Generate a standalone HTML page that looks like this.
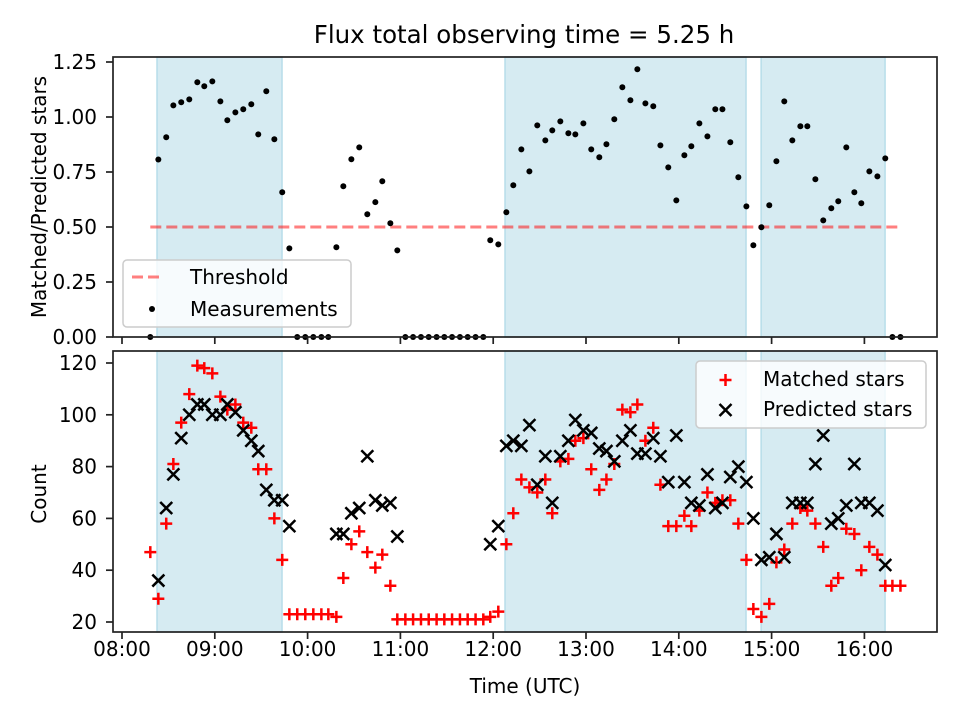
<!DOCTYPE html>
<html><head><meta charset="utf-8"><style>
body{margin:0;background:#fff;}
svg{display:block;font-family:"DejaVu Sans","Liberation Sans",sans-serif;}
</style></head><body>
<svg id="c" width="960" height="720" viewBox="0 0 960 720"></svg>
<script>
const times=[18.3,23.5,28.6,33.2,38.3,43.5,48.7,53.2,58.4,63.6,68.1,73.3,78.4,83.6,88.1,93.3,98.5,103.6,108.2,113.3,118.5,123.7,128.9,133.4,138.6,143.1,148.3,153.4,158.6,163.8,168.3,173.5,178.0,183.2,188.2,193.3,198.3,203.4,208.4,213.4,218.5,223.5,228.6,233.6,238.1,243.3,248.5,253.0,258.2,263.4,268.5,273.7,278.2,283.4,288.6,293.1,298.3,303.4,308.6,313.2,318.3,323.5,328.7,333.2,338.4,343.5,348.1,353.2,358.4,363.6,368.1,373.3,378.5,383.6,388.2,393.3,398.5,403.7,408.2,413.4,418.5,423.1,428.2,433.4,438.6,443.1,448.3,453.4,458.6,463.1,468.3,473.5,478.0,483.2,488.4,493.5,498.1,503.3];
const ratio=[0,.807,.908,1.053,1.067,1.08,1.158,1.14,1.162,1.071,.985,1.021,1.035,1.058,.921,1.117,.899,.658,.403,0,0,0,0,0,.408,.685,.808,.862,.558,.613,.708,.517,.394,0,0,0,0,0,0,0,0,0,0,0,.44,.421,.567,.69,.853,.753,.962,.894,.939,.98,.926,.921,.971,.853,.817,.876,.99,1.135,1.076,1.217,1.062,1.049,.871,.771,.621,.826,.867,.971,.912,1.035,1.035,.885,.726,.594,.417,.499,.599,.799,1.071,.894,.958,.958,.717,.53,.585,.617,.862,.658,.608,.753,.73,.812,0,0];
const matched=[47,29,58,81,97,108,119,118,116,107,102,104,97,95,79,79,60,44,23,23,23,23,23,23,22,37,50,55,47,41,46,34,21,21,21,21,21,21,21,21,21,21,21,21,22,24,50,62,75,72,70,75,62,82,83,90,91,79,71,75,81,102,101,104,90,95,73,57,57,61,57,63,70,66,67,67,58,44,25,22,27,43,48,58,64,63,58,49,34,37,56,54,40,49,46,34,34,34];
const predicted=[null,36,64,77,91,100,104,104,100,100,104,101,94,90,86,71,67,67,57,null,null,null,null,null,54,54,62,64,84,67,65,66,53,null,null,null,null,null,null,null,null,null,null,null,50,57,88,90,88,96,73,84,66,84,90,98,94,93,87,86,82,90,94,85,85,91,84,74,92,74,66,65,77,64,66,76,80,74,60,44,45,54,45,66,66,66,81,92,58,60,65,81,66,66,63,42,null,null];
const spans=[[22.6,103.5],[247.6,403.5],[413.2,493.4]];
const threshold=0.5, thrStart=18.3, thrEnd=503.3;
const xTickLabels=["08:00","09:00","10:00","11:00","12:00","13:00","14:00","15:00","16:00"];
const topTicks=[0,0.25,0.5,0.75,1.0,1.25];
const botTicks=[20,40,60,80,100,120];

const NS="http://www.w3.org/2000/svg";
const svg=document.getElementById('c');
function el(t,a,p){const e=document.createElementNS(NS,t);for(const k in a)e.setAttribute(k,a[k]);(p||svg).appendChild(e);return e;}
const L=113,R=937,T1=57,B1=337,T2=351,B2=632;
const FS=20;
const X=m=>122+m*92.8/60;
const Y1=v=>337-v*220;
const Y2=v=>622-(v-20)*2.59;

[[T1,B1],[T2,B2]].forEach(([t,b])=>{
  spans.forEach(s=>{
    const r=el('rect',{x:X(s[0]),y:t,width:X(s[1])-X(s[0]),height:b-t,fill:'#add8e6','fill-opacity':0.5,stroke:'#add8e6','stroke-opacity':0.8,'stroke-width':1.5});
    
    
  });
});
const th=el('line',{x1:X(thrStart),x2:X(thrEnd),y1:Y1(threshold),y2:Y1(threshold),stroke:'#ff0000','stroke-opacity':0.5,'stroke-width':3,'stroke-dasharray':'11,5'});


times.forEach((t,i)=>{
  const c=el('circle',{cx:X(t),cy:Y1(ratio[i]),r:3,fill:'#000'});
  
  
});
function plus(x,y,g){el('path',{d:`M${x-6},${y}H${x+6}M${x},${y-6}V${y+6}`,stroke:'#f00','stroke-width':2.5},g);}
function cross(x,y,g){el('path',{d:`M${x-6},${y-6}L${x+6},${y+6}M${x-6},${y+6}L${x+6},${y-6}`,stroke:'#000','stroke-width':2.5},g);}
times.forEach((t,i)=>{
  const g=el('g',{});
  
  
  plus(X(t),Y2(matched[i]),g);
});
times.forEach((t,i)=>{
  if(predicted[i]==null)return;
  const g=el('g',{});
  
  
  cross(X(t),Y2(predicted[i]),g);
});
[[T1,B1],[T2,B2]].forEach(([t,b])=>{
  const f=el('rect',{x:L,y:t,width:R-L,height:b-t,fill:'none',stroke:'#222','stroke-width':1.7});
  
  
});
xTickLabels.forEach((lab,i)=>{
  const x=X(i*60);
  el('line',{x1:x,x2:x,y1:B1,y2:B1+7,stroke:'#222','stroke-width':1.7});
  el('line',{x1:x,x2:x,y1:B2,y2:B2+7,stroke:'#222','stroke-width':1.7});
  const tx=el('text',{x:x,y:B2+24,'text-anchor':'middle','font-size':FS,fill:'#000'});
  tx.textContent=lab;
  
  
});
topTicks.forEach(v=>{
  const y=Y1(v);
  el('line',{x1:L-7,x2:L,y1:y,y2:y,stroke:'#222','stroke-width':1.7});
  const tx=el('text',{x:L-16,y:y+7,'text-anchor':'end','font-size':FS});
  tx.textContent=v.toFixed(2);
  
  
});
botTicks.forEach(v=>{
  const y=Y2(v);
  el('line',{x1:L-7,x2:L,y1:y,y2:y,stroke:'#222','stroke-width':1.7});
  const tx=el('text',{x:L-16,y:y+7,'text-anchor':'end','font-size':FS});
  tx.textContent=v;
  
  
});
</script>
<svg width="960" height="720" style="position:absolute;left:0;top:0;font-family:'DejaVu Sans','Liberation Sans',sans-serif;">
  <text x="524" y="43" text-anchor="middle" font-size="24.5">Flux total observing time = 5.25 h</text>
  <text x="525" y="693" text-anchor="middle" font-size="20">Time (UTC)</text>
  <text transform="translate(46,197) rotate(-90)" text-anchor="middle" font-size="20">Matched/Predicted stars</text>
  <text transform="translate(46,494) rotate(-90)" text-anchor="middle" font-size="20">Count</text>
  <g>
    <rect x="123" y="260" width="228" height="67" rx="4" fill="#fff" fill-opacity="0.8" stroke="#ccc" stroke-width="1.5"/>
    <line x1="132" y1="277" x2="160" y2="277" stroke="#f00" stroke-opacity="0.5" stroke-width="3" stroke-dasharray="11,5"/>
    <text x="190" y="284" font-size="20">Threshold</text>
    <circle cx="152" cy="309" r="3" fill="#000"/>
    <text x="190" y="316" font-size="20">Measurements</text>
  </g>
  <g>
    <rect x="696" y="361" width="230" height="67" rx="4" fill="#fff" fill-opacity="0.8" stroke="#ccc" stroke-width="1.5"/>
    <path d="M719.5,380H731.5M725.5,374V386" stroke="#f00" stroke-width="2.5"/>
    <text x="763" y="386" font-size="20">Matched stars</text>
    <path d="M719.5,404L731.5,416M719.5,416L731.5,404" stroke="#000" stroke-width="2.5"/>
    <text x="763" y="416" font-size="20">Predicted stars</text>
  </g>
</svg>
</body></html>
